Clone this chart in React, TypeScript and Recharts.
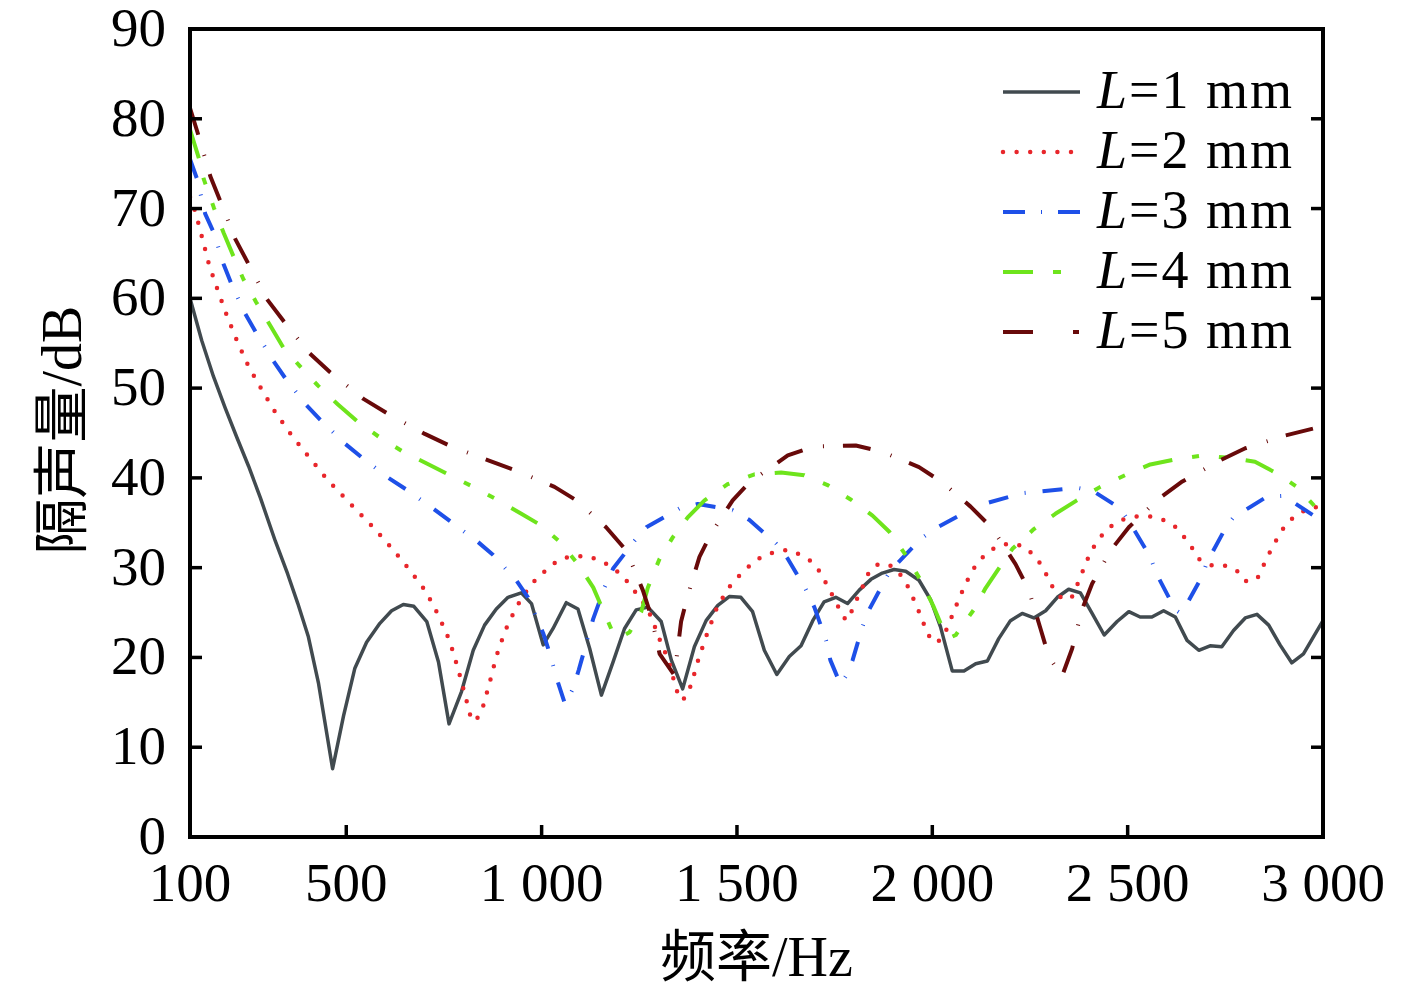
import React from 'react';
import { LineChart, Line, XAxis, YAxis, Label } from 'recharts';

// 隔声量 vs 频率, L = 1..5 mm. [Hz, dB] pairs.
const L1: [number, number][] = [
  [100, 60], [130, 55.3], [160, 51.3], [190, 47.8], [220, 44.5], [250, 41.3], [280, 37.8], [318, 33],
  [350, 29.3], [376, 26], [403, 22.3], [429, 17.1], [465, 7.6], [493, 13.5], [522, 18.8], [552, 21.7],
  [586, 23.8], [616, 25.2], [646, 25.9], [673, 25.7], [706, 24], [736, 19.5], [763, 12.6], [795, 16.2],
  [825, 20.8], [854, 23.6], [884, 25.4], [914, 26.7], [948, 27.2], [974, 26], [1004, 21.4], [1029, 23.2],
  [1063, 26.1], [1093, 25.4], [1123, 21], [1153, 15.8], [1183, 19.5], [1212, 23.2], [1242, 25.3],
  [1272, 25.6], [1306, 24], [1332, 19.7], [1361, 16.5], [1391, 21.2], [1421, 24.1], [1451, 25.8],
  [1481, 26.8], [1510, 26.7], [1540, 25.1], [1570, 20.8], [1602, 18.1], [1634, 20.1], [1664, 21.3],
  [1694, 24.1], [1723, 26.2], [1753, 26.7], [1783, 26], [1813, 27.5], [1843, 28.7], [1872, 29.4],
  [1902, 29.8], [1932, 29.6], [1966, 28.6], [1996, 26.4], [2021, 23.4], [2051, 18.5], [2081, 18.5],
  [2111, 19.3], [2141, 19.6], [2170, 22.1], [2200, 24.1], [2230, 24.9], [2260, 24.4], [2290, 25.2],
  [2320, 26.7], [2349, 27.6], [2379, 27.2], [2409, 24.9], [2440, 22.5], [2473, 24], [2503, 25.1],
  [2532, 24.5], [2562, 24.5], [2592, 25.2], [2622, 24.5], [2652, 21.9], [2682, 20.8], [2711, 21.3],
  [2741, 21.2], [2771, 23], [2801, 24.4], [2831, 24.8], [2861, 23.6], [2890, 21.4], [2920, 19.4],
  [2950, 20.4], [3000, 24.1],
];

const L2: [number, number][] = [
  [100, 71.3], [114, 69.6], [132, 66.6], [149, 63.7], [171, 60.9], [195, 58], [220, 55.3], [250, 52.4],
  [284, 49.8], [320, 47.2], [361, 44.7], [403, 42.4], [448, 40], [471, 38.9], [520, 36.7], [569, 34.5],
  [616, 32.2], [661, 29.8], [703, 27.4], [737, 24.6], [765, 21.8], [785, 18.9], [803, 16], [820, 13.1],
  [831, 12.9], [848, 14.2], [867, 17.2], [884, 20.1], [906, 22.9], [935, 25.6], [972, 28.1], [1025, 30.3],
  [1057, 31.1], [1091, 31.3], [1123, 31.2], [1154, 30.7], [1183, 30], [1211, 28.9], [1234, 27.6],
  [1259, 26.2], [1281, 24.5], [1299, 22.3], [1314, 20.8], [1330, 18.9], [1344, 16.5], [1357, 15.2],
  [1370, 15.6], [1383, 17], [1402, 19.9], [1424, 22.7], [1451, 25.8], [1483, 28], [1506, 29.1],
  [1532, 30.2], [1562, 31.2], [1593, 31.7], [1630, 32], [1659, 31.5], [1691, 30.7], [1713, 29.5],
  [1730, 28.1], [1747, 26.7], [1761, 25.5], [1779, 24.1], [1793, 25.1], [1806, 26.4], [1821, 27.8],
  [1834, 29.2], [1855, 30.3], [1887, 30.4], [1912, 29.6], [1934, 28.2], [1949, 26.8], [1963, 25.4],
  [1976, 24], [1987, 22.6], [2010, 21.6], [2028, 22.3], [2042, 23.7], [2055, 25.1], [2068, 26.5],
  [2083, 28], [2098, 29.3], [2113, 30.4], [2136, 31.5], [2166, 32.4], [2200, 32.7], [2233, 32.4],
  [2260, 31.4], [2281, 30.2], [2298, 28.7], [2313, 27.4], [2336, 26.4], [2358, 26.8], [2372, 28.2],
  [2385, 29.6], [2398, 31], [2413, 32.3], [2432, 33.5], [2457, 34.6], [2490, 35.4], [2524, 35.7],
  [2558, 35.7], [2592, 35.3], [2624, 34.5], [2645, 33.4], [2665, 32.2], [2684, 30.9], [2718, 30.2],
  [2754, 30.2], [2779, 29.7], [2801, 28.5], [2831, 28.7], [2846, 30.1], [2860, 31.4], [2877, 32.8],
  [2892, 34], [2913, 35.2], [2940, 36.1], [2974, 36.8], [3000, 36.6],
];

const L3: [number, number][] = [
  [100, 75.5], [118, 73.3], [139, 69.4], [161, 67.3], [186, 63.8], [206, 61.6], [241, 58.3], [269, 56.2],
  [314, 53], [344, 51.1], [396, 48.2], [433, 46.5], [497, 43.8], [539, 42.3], [608, 40], [654, 38.7],
  [725, 36.5], [768, 35.1], [836, 32.9], [876, 31.4], [935, 28.6], [965, 26.7], [1004, 22.7], [1016, 21.1],
  [1042, 17.2], [1060, 14.8], [1080, 16.5], [1095, 18.6], [1119, 22.3], [1132, 24.3], [1161, 27.8],
  [1183, 29.9], [1238, 33], [1268, 34.5], [1353, 36.6], [1400, 37.1], [1489, 36.4], [1532, 35.3],
  [1600, 32.7], [1630, 31], [1676, 27.6], [1698, 25.6], [1728, 21.9], [1739, 19.7], [1765, 17],
  [1783, 18.2], [1796, 19.7], [1821, 23.4], [1838, 25.3], [1885, 29.1], [1902, 30.1], [1970, 33.2],
  [2013, 34.5], [2094, 36.4], [2132, 37.1], [2230, 38.3], [2277, 38.5], [2370, 38.9], [2409, 38.6],
  [2481, 36.6], [2507, 34.9], [2558, 31.2], [2574, 29.3], [2622, 25.3], [2633, 25], [2643, 25.3],
  [2690, 29], [2703, 30.6], [2754, 34.7], [2771, 35.6], [2856, 37.9], [2899, 38], [2976, 35.8],
  [3000, 34.3],
];

const L4: [number, number][] = [
  [100, 78.8], [122, 75.7], [135, 73.3], [161, 70.1], [186, 67.3], [212, 64.6], [237, 62.1], [269, 59.6],
  [305, 57], [339, 54.5], [380, 52.5], [427, 50.3], [478, 48.2], [531, 46.2], [586, 44.5], [646, 42.9],
  [706, 41.6], [765, 40.3], [825, 39], [889, 37.5], [948, 36], [999, 34.7], [1046, 32.9], [1093, 30.4],
  [1132, 27.8], [1157, 25.3], [1183, 22.7], [1200, 22.2], [1225, 22.8], [1255, 25.1], [1272, 27.8],
  [1302, 31], [1336, 33.4], [1374, 35.6], [1417, 37.5], [1476, 39.3], [1545, 40.4], [1613, 40.6],
  [1672, 40.3], [1732, 39.2], [1791, 37.6], [1847, 35.8], [1890, 34], [1932, 31.4], [1970, 28.6],
  [2004, 25.6], [2021, 23.8], [2045, 22.2], [2060, 22.5], [2106, 25.3], [2136, 27.7], [2170, 29.9],
  [2205, 32.1], [2260, 34.3], [2315, 36], [2370, 37.5], [2430, 39], [2498, 40.4], [2558, 41.5],
  [2626, 42.1], [2694, 42.5], [2766, 42.2], [2826, 41.8], [2886, 40.4], [2933, 39], [2984, 36.6],
  [3000, 35.8],
];

const L5: [number, number][] = [
  [100, 81.2], [122, 78.1], [152, 73.6], [177, 70.9], [216, 66.6], [250, 63.8], [297, 59.9], [339, 57.5],
  [403, 54], [458, 51.8], [544, 48.8], [608, 47.1], [701, 44.9], [769, 43.5], [867, 41.9], [935, 40.8],
  [1033, 39], [1089, 37.5], [1165, 34.5], [1217, 31.9], [1259, 27.5], [1281, 24.5], [1302, 20.4],
  [1340, 18], [1357, 24], [1374, 26.9], [1404, 31.2], [1434, 33.8], [1489, 37.5], [1532, 39.5],
  [1630, 42.5], [1698, 43.5], [1804, 43.6], [1872, 42.9], [1966, 41.2], [2026, 39.5], [2098, 36.8],
  [2153, 34.4], [2213, 30.4], [2247, 27.5], [2277, 23.2], [2298, 20.1], [2332, 17.9], [2358, 21],
  [2383, 25.3], [2409, 28.2], [2456, 31.9], [2503, 34.5], [2580, 37.7], [2640, 39.6], [2734, 41.9],
  [2801, 43.3], [2902, 44.7], [2976, 45.5], [3000, 45.6],
];

const xTicks = [100, 500, 1000, 1500, 2000, 2500, 3000];
const yTicks = [0, 10, 20, 30, 40, 50, 60, 70, 80, 90];

const series = [
  { key: 'L1', label: '1 mm', pts: L1, color: '#414a4f', width: 3.5, dash: undefined, legendDash: undefined, cap: 'butt' },
  { key: 'L2', label: '2 mm', pts: L2, color: '#e8262b', width: 4.5, dash: '0 13.6', legendDash: '0 13.6', cap: 'round' },
  { key: 'L3', label: '3 mm', pts: L3, color: '#1e50e8', width: 4, dash: '20 17 1 17', legendDash: '22 16 1 16', cap: 'butt' },
  { key: 'L4', label: '4 mm', pts: L4, color: '#6ee41c', width: 4, dash: '30 20 7 20 7 20', legendDash: '30 20 8 20', cap: 'butt' },
  { key: 'L5', label: '5 mm', pts: L5, color: '#680a0a', width: 4, dash: '28 21 1 19', legendDash: '30 40 6 40', cap: 'butt' },
];

const FONT = "'Liberation Serif', 'Times New Roman', 'Noto Sans CJK SC', serif";

const fmtHz = (v: number) =>
  v >= 1000 ? `${Math.floor(v / 1000)} ${String(v % 1000).padStart(3, '0')}` : String(v);

function BottomTick(props: any) {
  const { x, y, payload } = props;
  const v = payload.value;
  return (
    <g>
      {v !== 100 && v !== 3000 && <line x1={x} x2={x} y1={y} y2={y - 12} stroke="#000" strokeWidth={3.5} />}
      <text x={x} y={y + 64} textAnchor="middle" fontFamily={FONT} fontSize={55} fill="#000">{fmtHz(v)}</text>
    </g>
  );
}

function LeftTick(props: any) {
  const { x, y, payload } = props;
  const v = payload.value;
  return (
    <g>
      {v !== 0 && v !== 90 && <line x1={x} x2={x + 12} y1={y} y2={y} stroke="#000" strokeWidth={3.5} />}
      <text x={x - 24} y={y + 17} textAnchor="end" fontFamily={FONT} fontSize={55} fill="#000">{v}</text>
    </g>
  );
}

function TopTick(props: any) {
  const { x, y, payload } = props;
  if (payload.value === 100 || payload.value === 3000) return <g />;
  return <line x1={x} x2={x} y1={y} y2={y + 12} stroke="#000" strokeWidth={3.5} />;
}

function RightTick(props: any) {
  const { x, y, payload } = props;
  if (payload.value === 0 || payload.value === 90) return <g />;
  return <line x1={x} x2={x - 12} y1={y} y2={y} stroke="#000" strokeWidth={3.5} />;
}

function LegendBox() {
  return (
    <svg width={330} height={300} style={{ position: 'absolute', left: 995, top: 60, display: 'block' }}>
      {series.map((s, i) => {
        const cy = 32 + i * 60;
        return (
          <g key={s.key}>
            <line x1={8} x2={85} y1={cy} y2={cy} stroke={s.color} strokeWidth={s.width}
              strokeDasharray={s.legendDash} strokeLinecap={s.cap as any} />
            <text x={102} y={cy + 16} fontFamily={FONT} fontSize={54} letterSpacing={2} fill="#000">
              <tspan fontStyle="italic">L</tspan>={s.label}
            </text>
          </g>
        );
      })}
    </svg>
  );
}

const axisLine = { stroke: '#000', strokeWidth: 4, strokeLinecap: 'square' as const };

export default function App() {
  return (
    <div style={{ position: 'relative', width: 1417, height: 992, background: '#fff' }}>
      <style>{'body{margin:0;background:#fff}'}</style>
      <LineChart width={1417} height={992} margin={{ top: 28, right: 93, left: 90, bottom: 55 }}>
        <XAxis xAxisId={0} type="number" dataKey="f" domain={[100, 3000]} ticks={xTicks} allowDataOverflow
          height={100} axisLine={axisLine} tickLine={false} tickSize={0} tickMargin={0} tick={<BottomTick />}
          interval={0}>
          <Label content={(p: any) => {
            const vb = p.viewBox;
            return (
              <text x={vb.x + vb.width / 2} y={vb.y + 139} textAnchor="middle" fontFamily={FONT} fontSize={56} fill="#000">
                频率/Hz
              </text>
            );
          }} />
        </XAxis>
        <XAxis xAxisId="t" orientation="top" type="number" domain={[100, 3000]} ticks={xTicks} allowDataOverflow
          height={1} axisLine={axisLine} tickLine={false} tickSize={0} tickMargin={0} tick={<TopTick />} interval={0} />
        <YAxis yAxisId={0} type="number" domain={[0, 90]} ticks={yTicks} allowDataOverflow width={100}
          axisLine={axisLine} tickLine={false} tickSize={0} tickMargin={0} tick={<LeftTick />} interval={0}>
          <Label content={(p: any) => {
            const vb = p.viewBox;
            const cx = vb.x - 28;
            const cy = vb.y + vb.height / 2 - 3;
            return (
              <text x={cx} y={cy} transform={`rotate(-90 ${cx} ${cy})`} textAnchor="middle" dominantBaseline="central"
                fontFamily={FONT} fontSize={56} fill="#000">
                隔声量/dB
              </text>
            );
          }} />
        </YAxis>
        <YAxis yAxisId="r" orientation="right" type="number" domain={[0, 90]} ticks={yTicks} allowDataOverflow
          width={1} axisLine={axisLine} tickLine={false} tickSize={0} tickMargin={0} tick={<RightTick />} interval={0} />
        {series.map((s) => (
          <Line key={s.key} xAxisId={0} yAxisId={0} name={s.key}
            data={s.pts.map(([f, v]) => ({ f, v }))} dataKey="v" type="linear"
            stroke={s.color} strokeWidth={s.width} strokeDasharray={s.dash} strokeLinecap={s.cap as any}
            strokeLinejoin="round" dot={false} activeDot={false} isAnimationActive={false} />
        ))}
      </LineChart>
      <LegendBox />
    </div>
  );
}
